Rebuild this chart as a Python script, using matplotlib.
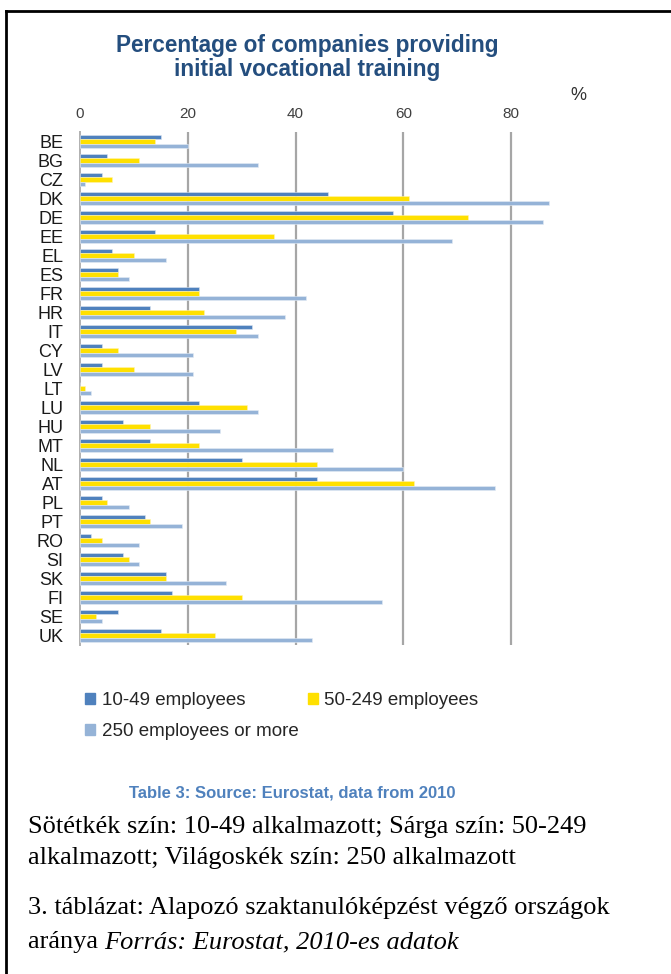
import numpy as np
import matplotlib.pyplot as plt
from matplotlib.lines import Line2D
from matplotlib.patches import Patch

# country codes, top to bottom
countries = ["BE", "BG", "CZ", "DK", "DE", "EE", "EL", "ES", "FR", "HR", "IT", "CY", "LV",
             "LT", "LU", "HU", "MT", "NL", "AT", "PL", "PT", "RO", "SI", "SK", "FI", "SE", "UK"]

# % of companies, by size class
small  = [15, 5, 4, 46, 58, 14, 6, 7, 22, 13, 32, 4, 4, 0, 22, 8, 13, 30, 44, 4, 12, 2, 8, 16, 17, 7, 15]
medium = [14, 11, 6, 61, 72, 36, 10, 7, 22, 23, 29, 7, 10, 1, 31, 13, 22, 44, 62, 5, 13, 4, 9, 16, 30, 3, 25]
large  = [20, 33, 1, 87, 86, 69, 16, 9, 42, 38, 33, 21, 21, 2, 33, 26, 47, 60, 77, 9, 19, 11, 11, 27, 56, 4, 43]

xticks = [0, 20, 40, 60, 80]

c_small = "#4F81BD"
c_medium = "#FFE000"
c_large = "#95B3D7"

W, H = 671, 974
fig = plt.figure(figsize=(W / 100, H / 100), dpi=100)

# axes placed in pixel terms of the reference
x0, x1 = 80, 565
y_top, y_bot = 132, 645
ax = fig.add_axes([x0 / W, 1 - y_bot / H, (x1 - x0) / W, (y_bot - y_top) / H])

y = np.arange(len(countries))
h = 0.23
ax.barh(y - h, small, height=h, color=c_small, edgecolor="#DDE6F1", linewidth=0.4, zorder=3)
ax.barh(y, medium, height=h, color=c_medium, edgecolor="#FFF4B0", linewidth=0.4, zorder=3)
ax.barh(y + h, large, height=h, color=c_large, edgecolor="#E4ECF5", linewidth=0.4, zorder=3)

ax.set_xlim(0, 90)
ax.set_ylim(len(countries) - 0.5, -0.5)
ax.set_yticks(y)
ax.set_yticklabels(countries, fontsize=13, color="#1a1a1a", family="Liberation Sans")
ax.set_xticks(xticks)
ax.set_xticklabels([str(t) for t in xticks], fontsize=11, color="#404040", family="Liberation Sans")
ax.xaxis.tick_top()
ax.tick_params(axis="both", length=0)
ax.tick_params(axis="x", pad=8)
ax.tick_params(axis="y", pad=12)
for t in xticks[1:]:
    ax.axvline(t, color="#A6A6A6", lw=1.6, zorder=1)
for s in ["top", "right", "bottom"]:
    ax.spines[s].set_visible(False)
ax.spines["left"].set_color("#B0B0B0")
ax.spines["left"].set_linewidth(1.4)

# title and unit
fig.text(307 / W, 1 - 57.5 / H, "Percentage of companies providing\ninitial vocational training",
         ha="center", va="center", fontsize=16.3, fontweight="bold", color="#244E7E",
         family="Liberation Sans", linespacing=1.1)
fig.text(578 / W, 1 - 95 / H, "%", ha="center", va="center", fontsize=13,
         color="#303030", family="Liberation Sans")

# legend (row-major order in 2 columns)
handles = [Patch(color=c_small), Patch(color=c_large), Patch(color=c_medium)]
labels = ["10-49 employees", "250 employees or more", "50-249 employees"]
fig.legend(handles, labels, loc="center left", bbox_to_anchor=(70 / W, 1 - 716 / H), ncol=2,
           frameon=False, handlelength=0.53, handleheight=0.53, handletextpad=0.35,
           columnspacing=0.5, labelspacing=0.75, borderpad=0.3,
           prop={"family": "Liberation Sans", "size": 13.5}, labelcolor="#262626")

# captions
fig.text(292 / W, 1 - 793 / H, "Table 3: Source: Eurostat, data from 2010", ha="center", va="center",
         fontsize=12, fontweight="bold", color="#4F81BD", family="Liberation Sans")
serif = "Liberation Serif"
fs = 19
fig.text(28 / W, 1 - 827 / H, "Sötétkék szín: 10-49 alkalmazott; Sárga szín: 50-249",
         ha="left", va="center", fontsize=fs, family=serif)
fig.text(28 / W, 1 - 858 / H, "alkalmazott; Világoskék szín: 250 alkalmazott",
         ha="left", va="center", fontsize=fs, family=serif)
fig.text(28 / W, 1 - 908 / H, "3. táblázat: Alapozó szaktanulóképzést végző országok",
         ha="left", va="center", fontsize=fs, family=serif)
t = fig.text(28 / W, 1 - 942 / H, "aránya ", ha="left", va="center", fontsize=fs, family=serif)
fig.canvas.draw()
bb = t.get_window_extent()
fig.text(bb.x1 / W, 1 - 942 / H, "Forrás: Eurostat, 2010-es adatok", ha="left", va="center",
         fontsize=fs, family=serif, style="italic")

# frame lines (top and left edges of the original box)
fig.add_artist(Line2D([6 / W, 1], [1 - 11 / H, 1 - 11 / H], transform=fig.transFigure, color="black", lw=2))
fig.add_artist(Line2D([6 / W, 6 / W], [0, 1 - 11 / H], transform=fig.transFigure, color="black", lw=2))

fig.savefig("out.png", dpi=100)
